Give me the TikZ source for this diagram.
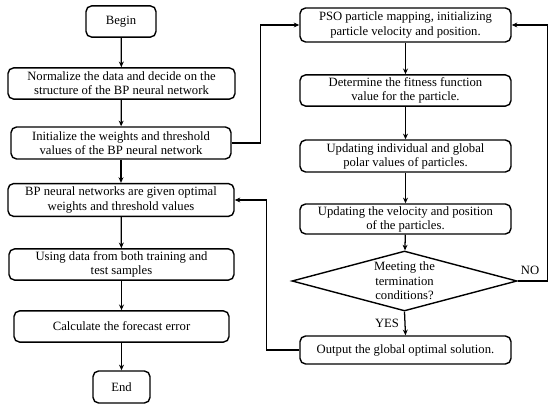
\documentclass[tikz,border=0pt]{standalone}
\usepackage{fontspec}
\setmainfont{Liberation Serif}
\usetikzlibrary{shapes.geometric, arrows.meta, positioning}
\tikzset{
  block/.style={rectangle, draw=black, align=center, minimum height=0.78cm,
    font=\fontsize{9}{10}\selectfont, rounded corners=4pt, line width=1pt, inner sep=1pt},
  decision/.style={diamond, draw=black, align=center, aspect=3.75, inner sep=0pt,
    minimum width=5.625cm, minimum height=1.5cm,
    font=\fontsize{9}{10.3}\selectfont, line width=1pt},
  lbl/.style={font=\fontsize{9}{10}\selectfont, inner sep=1pt},
  arrow/.style={-{Stealth[length=4pt,width=3.5pt]}, line width=0.9pt},
  line/.style={line width=0.9pt}
}
\begin{document}
\begin{tikzpicture}[x=0.025cm, y=-0.025cm]
  \useasboundingbox (0,0) rectangle (553,411);

  % BP network steps
  \node[block, minimum width=1.75cm] (begin) at (121,21.5) {Begin};
  \node[block, minimum width=5.675cm] (norm) at (121.5,83.5) {Normalize the data and decide on the\\structure of the BP neural network};
  \node[block, minimum width=5.5cm, minimum height=0.8cm] (init) at (121,143) {Initialize the weights and threshold\\values of the BP neural network};
  \node[block, minimum width=5.65cm, minimum height=0.82cm] (bpopt) at (121,200) {BP neural networks are given optimal\\weights and threshold values};
  \node[block, minimum width=5.625cm] (data) at (121.5,264.5) {Using data from both training and\\test samples};
  \node[block, minimum width=5.375cm] (err) at (121.5,326.5) {Calculate the forecast error};
  \node[block, minimum width=1.425cm, minimum height=0.8cm] (end) at (121.5,387) {End};

  % PSO steps
  \node[block, minimum width=5.275cm, minimum height=0.85cm] (pso) at (405.5,25) {PSO particle mapping, initializing\\particle velocity and position.};
  \node[block, minimum width=5.275cm] (fit) at (405.5,90.5) {Determine the fitness function\\value for the particle.};
  \node[block, minimum width=5.275cm, minimum height=0.8cm] (upd) at (405.5,156) {Updating individual and global\\polar values of particles.};
  \node[block, minimum width=5.275cm, minimum height=0.75cm] (vel) at (405.5,219) {Updating the velocity and position\\of the particles.};
  \node[decision] (cond) at (404.5,281) {Meeting the\\termination\\conditions?};
  \node[block, minimum width=5.275cm, minimum height=0.7cm] (out) at (405.5,350) {Output the global optimal solution.};

  \node[lbl] (no) at (530,270) {NO};
  \node[lbl] (yes) at (387,323) {YES};

  % connectors
  \draw[arrow] (begin) -- (norm);
  \draw[arrow] (norm) -- (init);
  \draw[arrow] (init) -- (bpopt);
  \draw[arrow] (bpopt) -- (data);
  \draw[arrow] (data) -- (err);
  \draw[arrow] (err) -- (end);

  \draw[arrow] (init.east) -- ++(29,0) |- (pso.west);
  \draw[arrow] (pso) -- (fit);
  \draw[arrow] (fit) -- (upd);
  \draw[arrow] (upd) -- (vel);
  \draw[arrow] (vel) -- (cond);
  \draw[arrow] (cond.east) -- ++(30,0) |- (pso.east);
  \draw[arrow] (cond.south) -- (out.north);
  \draw[arrow] (out.west) -- ++(-33,0) |- (bpopt.east);
\end{tikzpicture}
\end{document}
